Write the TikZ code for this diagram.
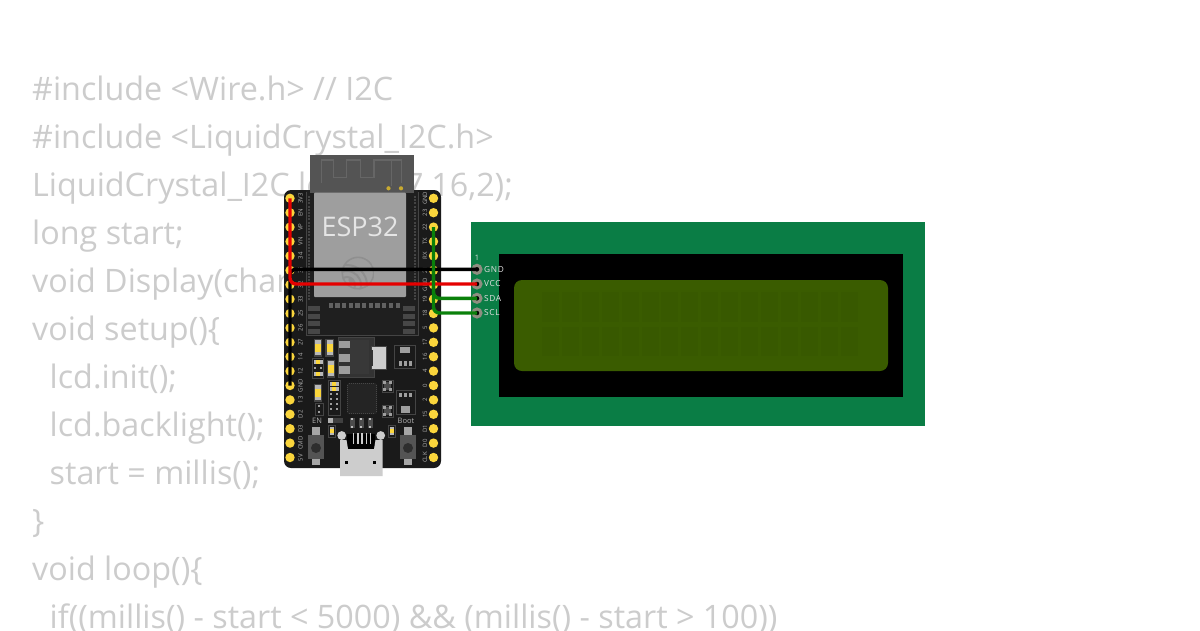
\documentclass[tikz,border=0pt]{standalone}
\usepackage{fontspec}
\setmainfont{Open Sans}
\newfontfamily\spaced[LetterSpace=8]{Open Sans}
\definecolor{codegrey}{HTML}{CCCCCC}
\definecolor{boardc}{HTML}{1A1A1A}
\definecolor{pinyel}{HTML}{FAD53C}
\definecolor{pcbgreen}{HTML}{0A7D45}
\definecolor{lcdolive}{HTML}{3A5C00}
\definecolor{lcdchar}{HTML}{385900}
\definecolor{linec}{HTML}{444444}
\definecolor{labc}{HTML}{B0B0B0}
\definecolor{padc}{HTML}{8E8E80}
\definecolor{wgreen}{HTML}{0A800A}
\definecolor{usbc}{HTML}{CDCDCD}
\definecolor{canc}{HTML}{9E9E9E}
\definecolor{logoc}{HTML}{8F8F8F}
\definecolor{smdend}{HTML}{B8B8B8}
\tikzset{
  codeline/.style={anchor=base west,inner sep=0pt,text=codegrey,font=\fontsize{32.3}{40}\selectfont},
  pinhole/.style={circle,fill=pinyel,inner sep=0pt,minimum size=9.4pt},
  pinlab/.style={inner sep=0pt,text=labc,rotate=90,font=\fontsize{6}{7}\selectfont},
  lcdpad/.style={circle,fill=black,draw=padc,line width=3pt,inner sep=0pt,minimum size=8pt},
  lcdlab/.style={anchor=west,inner sep=0pt,text=white!88!black,font=\spaced\fontsize{8.3}{9}\selectfont},
  wire/.style={line width=3.4pt,rounded corners=6pt},
  outl/.style={draw=linec,line width=.8pt},
}
\newcommand{\smdv}[2]{% vertical part centred at #1,#2
  \fill[linec] (#1-4.2,#2-9) rectangle (#1+4.2,#2+9);
  \fill[smdend] (#1-3,#2-7.5) rectangle (#1+3,#2+7.5);
  \fill[pinyel] (#1-3,#2-3.5) rectangle (#1+3,#2+4.5);
}
\newcommand{\smdh}[2]{% small horizontal part centred at #1,#2
  \fill[smdend] (#1-4.5,#2-1.7) rectangle (#1+4.5,#2+1.7);
  \fill[pinyel] (#1-1.7,#2-1.7) rectangle (#1+1.7,#2+1.7);
}
\newcommand{\btn}[1]{% push button centred on x=#1
  \fill[white!65!black] (#1-4,427) rectangle (#1+4,436);
  \fill[white!65!black] (#1-4,458) rectangle (#1+4,465);
  \fill[white!33!black] (#1-8,435) rectangle (#1+8,459);
  \fill[white!18!black] (#1,448) circle (5);
}
\newcommand{\sqs}[2]{\fill[white!62!black] (#1-1.3,#2-1.3) rectangle (#1+1.3,#2+1.3);}
\begin{document}
\begin{tikzpicture}[x=1pt,y=-1pt]
\useasboundingbox (0,0) rectangle (1200,630);
\fill[white] (0,0) rectangle (1200,630);
% code
\node[codeline] (c1) at (32,100) {\#include <Wire.h> // I2C};
\node[codeline] (c2) at (32,148) {\#include <LiquidCrystal\_I2C.h>};
\node[codeline] (c3) at (32,196) {LiquidCrystal\_I2C lcd(0x27,16,2);};
\node[codeline] (c4) at (32,244) {long start;};
\node[codeline] (c5) at (32,292) {void Display(char};
\node[codeline] (c6) at (32,340) {void setup()\{};
\node[codeline] (c7) at (49.5,388) {lcd.init();};
\node[codeline] (c8) at (49.5,436) {lcd.backlight();};
\node[codeline] (c9) at (49.5,484) {start = millis();};
\node[codeline] (c10) at (32,532) {\}};
\node[codeline] (c11) at (32,580) {void loop()\{};
\node[codeline] (c12) at (49.5,628) {if((millis() - start < 5000) \&\& (millis() - start > 100))};
% ESP32 board
\fill[boardc,rounded corners=7pt] (284,190) rectangle (441,468);
% module
\fill[black!88!white] (306,190) rectangle (418,335);
\draw[outl] (306,192) -- (306,335) -- (418,335) -- (418,192);
\draw[linec,line width=2.5pt,dash pattern=on 2pt off 1.2pt] (309,196) -- (309,300);
\draw[linec,line width=2.5pt,dash pattern=on 2pt off 1.2pt] (415,196) -- (415,300);
\fill[white!33!black] (310,155) rectangle (414,193);
\draw[white!40!black,line width=1.3pt] (321.7,183) -- (321.7,160) -- (333.3,160) -- (333.3,177.3) -- (346.7,177.3) -- (346.7,160) -- (360.7,160) -- (360.7,177.3) -- (374,177.3) -- (374,160) -- (401.7,160) -- (401.7,183);
\draw[white!40!black,line width=1.3pt] (391.7,160) -- (391.7,186);
\fill[pinyel!80!black] (388.5,188.3) circle (2.1);
\fill[pinyel!80!black] (401,188.3) circle (2.1);
\fill[canc,rounded corners=1pt] (314,192.5) rectangle (406,297);
\node[inner sep=0pt,text=white!90!black,font=\fontsize{27}{30}\selectfont] (esp) at (360,227) {ESP32};
% logo
\begin{scope}
\clip (358,273) circle (16.5);
\draw[logoc,line width=1.6pt] (358,273) circle (15.7);
\draw[logoc,line width=2pt] (347,285) circle (8);
\draw[logoc,line width=2pt] (347,285) circle (14);
\draw[logoc,line width=2pt] (347,285) circle (20);
\fill[logoc] (351,280) circle (2.6);
\end{scope}
% module pads
\foreach \i in {0,...,10} \fill[white!38!black] ({328.5+6.7*\i},303) rectangle ({332.8+6.7*\i},308);
\foreach \yy in {306,313.5,321,328.5} {
  \fill[white!28!black] (308,\yy) rectangle (320,\yy+5);
  \fill[white!28!black] (403,\yy) rectangle (415,\yy+5);
}
% small parts
\smdv{318}{347.5}
\smdv{329.5}{347.5}
\smdv{331}{368.5}
\draw[outl] (312.5,358) rectangle (323.5,378);
\smdh{318}{362}\smdh{318}{374}\sqs{315}{368}\sqs{321}{368}
% regulator
\draw[outl,fill=black!80!white] (338,337) rectangle (374,377);
\fill[white!22!black] (350,340) rectangle (369,374);
\fill[white!62!black] (339,341) rectangle (350,348);
\fill[white!62!black] (339,353.5) rectangle (350,362);
\fill[white!62!black] (339,366) rectangle (350,374);
\draw[outl,fill=usbc] (371.5,346.5) rectangle (386.5,369.5);
\fill[black!80!white] (369,350) rectangle (373,366);
% SOT top
\draw[outl] (394,345) rectangle (415,368);
\fill[white!62!black] (400,346.5) rectangle (410,353);
\foreach \xx in {400,405,410} \fill[white!62!black] (\xx-1.5,361) rectangle (\xx+1.5,366);
% chip
\fill[white!14!black,rounded corners=1.5pt] (347,383) rectangle (377,414);
\draw[white!28!black,line width=1.2pt,dash pattern=on 1pt off 1pt] (347.5,385) -- (347.5,412) (376.5,385) -- (376.5,412) (349,383.5) -- (375,383.5) (349,413.5) -- (375,413.5);
% left small group
\smdv{318}{392.5}
\draw[outl] (315,403) rectangle (323,415);
\sqs{319}{406}\sqs{319}{412}
% resistor net
\draw[outl] (328,380) rectangle (340,415);
\smdh{334}{384}
\smdh{334}{389}
\foreach \yy in {394,399,404,409} {\sqs{331}{\yy}\sqs{337}{\yy}}
% right small
\draw[outl] (382,380) rectangle (393,392);
\draw[outl] (382,405) rectangle (393,417);
\fill[white!30!black] (384,382) rectangle (391,390);
\fill[white!30!black] (384,407) rectangle (391,415);
\foreach \xx in {384.5,390.5} {\sqs{\xx}{382.5}\sqs{\xx}{389.5}\sqs{\xx}{407.5}\sqs{\xx}{414.5}}
% SOT bottom
\draw[outl] (396,390) rectangle (415,414);
\fill[white!62!black] (401,406) rectangle (410,413);
\foreach \xx in {400.5,405.5,410.5} \fill[white!62!black] (\xx-1.5,393) rectangle (\xx+1.5,397);
% labels
\node[inner sep=0pt,text=labc,font=\fontsize{7.5}{8}\selectfont] (enlab) at (317,420.5) {EN};
\node[inner sep=0pt,text=labc,font=\fontsize{7.5}{8}\selectfont] (bootlab) at (406,420.5) {Boot};
% tiny parts
\fill[white!25!black] (328,418) rectangle (343,423);
\fill[white!70!black] (328,418) rectangle (333,423);
\foreach \xx in {352,361,370} {
  \fill[white!30!black] (\xx-2.5,418) rectangle (\xx+2.5,428);
  \fill[white!75!black] (\xx-1.2,418) rectangle (\xx+1.2,420);
  \fill[white!75!black] (\xx-1.2,426) rectangle (\xx+1.2,428);
}
\foreach \xx in {332,392} {
  \draw[outl] (\xx-3.7,425) rectangle (\xx+3.7,437);
  \fill[smdend] (\xx-2,427) rectangle (\xx+2,435);
  \fill[pinyel] (\xx-2,429) rectangle (\xx+2,433);
}
% buttons
\btn{316}
\btn{408}
% USB
\fill[black] (347,434) -- (375,434) -- (375,440) -- (378,440) -- (378,449) -- (346,449) -- (346,440) -- (347,440) -- cycle;
\foreach \i in {0,...,4} \fill[white!80!black] ({353+\i*4.2},433) rectangle ({354.3+\i*4.2},444);
\fill[usbc] (340,440) -- (346.5,440) -- (348,449) -- (374,449) -- (375.5,440) -- (382.7,440) -- (382.7,476) -- (340,476) -- cycle;
\fill[usbc] (341.7,435.5) circle (4.4);
\fill[usbc] (380.7,435.5) circle (4.4);
\fill[black] (345.3,461.3) rectangle (348.3,464.3);
\fill[black] (373.3,461.3) rectangle (376.3,464.3);
% ESP32 pins
\foreach \lab [count=\n from 0] in {3V3,EN,VP,VN,34,35,32,33,25,26,27,14,12,GND,13,D2,D3,CMD,5V} {
  \node[pinhole] (L\n) at (290,{198.3+14.4*\n}) {};
  \node[pinlab] (LL\n) at (300.5,{198.3+14.4*\n}) {\lab};
}
\foreach \lab [count=\n from 0] in {GND,23,22,TX,RX,21,GND,19,18,5,17,16,4,0,2,15,D1,D0,CLK} {
  \node[pinhole] (R\n) at (433.5,{198.3+14.4*\n}) {};
  \node[pinlab] (RL\n) at (425,{198.3+14.4*\n}) {\lab};
}
% LCD
\fill[pcbgreen] (471,222) rectangle (925,426);
\fill[black] (499,254) rectangle (903,397);
\fill[lcdolive,rounded corners=8pt] (514,280) rectangle (888,371);
\foreach \i in {0,...,15} {
  \fill[lcdchar] ({542+19.9*\i},292) rectangle ({559+19.9*\i},322);
  \fill[lcdchar] ({542+19.9*\i},327) rectangle ({559+19.9*\i},356);
}
\node[lcdpad] (gnd) at (477,269.3) {};
\node[lcdpad] (vcc) at (477,284) {};
\node[lcdpad] (sda) at (477,298.3) {};
\node[lcdpad] (scl) at (477,313) {};
\node[lcdlab] (gndl) at (484,269.3) {GND};
\node[lcdlab] (vccl) at (484,284) {VCC};
\node[lcdlab] (sdal) at (484,298.3) {SDA};
\node[lcdlab] (scll) at (484,313) {SCL};
\node[inner sep=0pt,text=white!88!black,font=\fontsize{7.5}{8}\selectfont] (one) at (477,258) {1};
% wires
\draw[wire,black] (gnd.center) -| (L13.center);
\draw[wire,red!90!black] (vcc.center) -| (L0.center);
\draw[wire,wgreen] (sda.center) -| (R5.center);
\draw[wire,wgreen] (scl.center) -| (R2.center);
\end{tikzpicture}
\end{document}
